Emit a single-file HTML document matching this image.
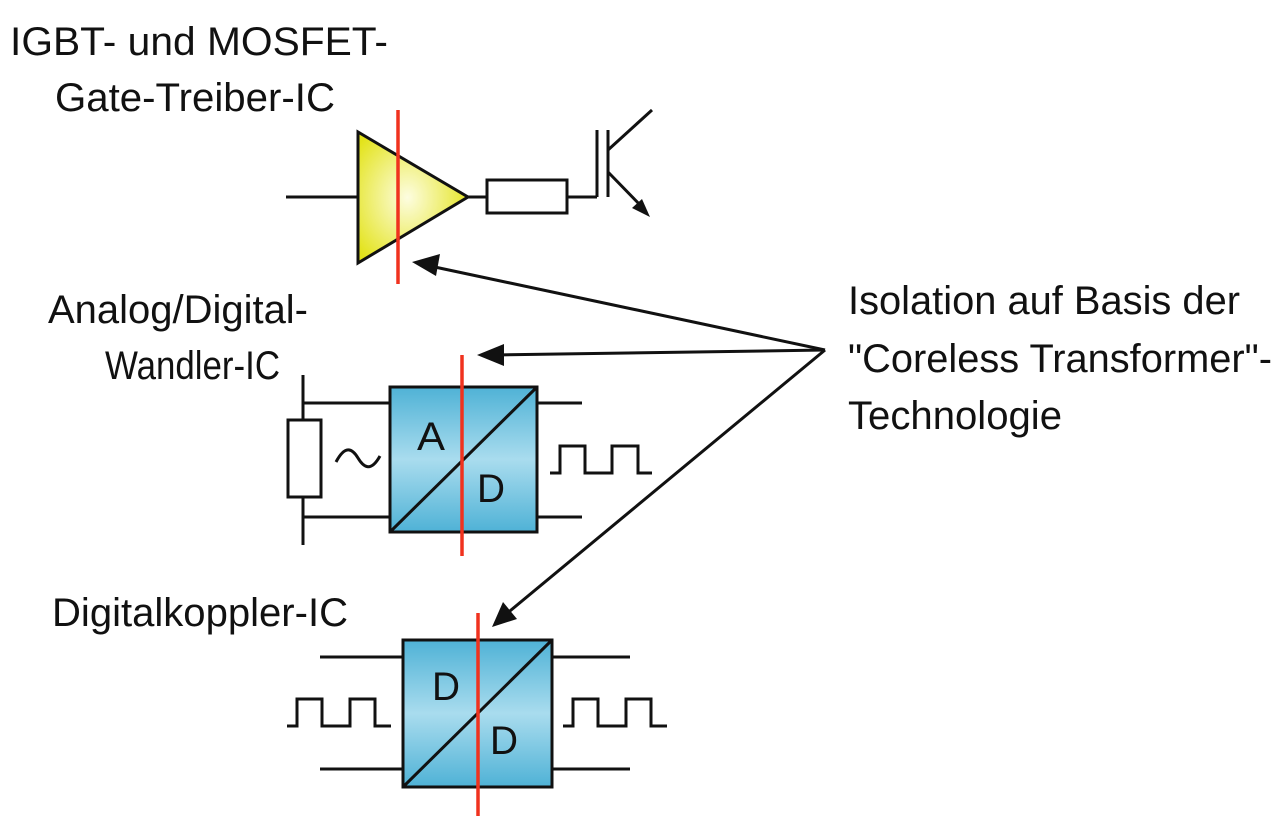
<!DOCTYPE html>
<html><head><meta charset="utf-8"><style>
html,body{margin:0;padding:0;background:#fff;}
svg{display:block;}
text{font-family:"Liberation Sans",Arial,sans-serif;font-size:40px;fill:#111;}
</style></head><body>
<svg width="1280" height="816" viewBox="0 0 1280 816" xmlns="http://www.w3.org/2000/svg">
<defs>
<radialGradient id="yg" cx="0.45" cy="0.5" r="0.6">
<stop offset="0" stop-color="#fdfde0"/><stop offset="1" stop-color="#e3e31a"/></radialGradient>
<linearGradient id="bg" x1="0" y1="0" x2="0" y2="1">
<stop offset="0" stop-color="#4fb2d6"/><stop offset="0.5" stop-color="#a9dcee"/><stop offset="1" stop-color="#4fb2d6"/></linearGradient>
</defs>
<g stroke="#111" stroke-width="3" fill="none">
<line x1="286" y1="197" x2="358" y2="197"/>
<polygon points="358,132 358,263 468,197" fill="url(#yg)"/>
<line x1="468" y1="197" x2="487" y2="197"/>
<rect x="487" y="180" width="80" height="33" fill="#fff"/>
<line x1="567" y1="197" x2="597" y2="197"/>
<line x1="597" y1="130" x2="597" y2="197"/>
<line x1="608" y1="130" x2="608" y2="197"/>
<line x1="608" y1="150" x2="652" y2="110"/>
<line x1="608" y1="172" x2="645" y2="210"/>
<polygon points="650,217 632,208 642,199" fill="#111" stroke="none"/>
<line x1="303" y1="375" x2="303" y2="545"/>
<line x1="303" y1="403" x2="390" y2="403"/>
<line x1="303" y1="517" x2="390" y2="517"/>
<rect x="288" y="420" width="33" height="77" fill="#fff"/>
<path d="M336,462 C345,445 352,448 358,458 C364,468 371,472 380,456"/>
<rect x="390" y="387" width="147" height="145" fill="url(#bg)"/>
<line x1="390" y1="532" x2="537" y2="387"/>
<line x1="537" y1="403" x2="582" y2="403"/>
<line x1="537" y1="517" x2="582" y2="517"/>
<polyline points="550,473 560,473 560,446 585,446 585,473 612,473 612,446 638,446 638,473 652,473"/>
<line x1="320" y1="657" x2="403" y2="657"/>
<line x1="320" y1="769" x2="403" y2="769"/>
<line x1="552" y1="657" x2="630" y2="657"/>
<line x1="552" y1="769" x2="630" y2="769"/>
<polyline points="287,726 297,726 297,699 322,699 322,726 350,726 350,699 375,699 375,726 391,726"/>
<polyline points="563,726 573,726 573,699 598,699 598,726 626,726 626,699 651,699 651,726 667,726"/>
<rect x="403" y="640" width="149" height="147" fill="url(#bg)"/>
<line x1="403" y1="787" x2="552" y2="640"/>
<line x1="825" y1="350" x2="430" y2="266"/>
<line x1="825" y1="350" x2="495" y2="355"/>
<line x1="825" y1="350" x2="505" y2="615"/>
</g>
<g fill="#111">
<polygon points="412,262 440,254 436,276"/>
<polygon points="477,355 504,344 504,366"/>
<polygon points="492,627 503,602 517,619"/>
</g>
<g stroke="#f0321e" stroke-width="3.5">
<line x1="398" y1="110" x2="398" y2="284"/>
<line x1="462" y1="355" x2="462" y2="556"/>
<line x1="478" y1="613" x2="478" y2="816"/>
</g>
<text x="417" y="450" font-size="38" textLength="28" lengthAdjust="spacingAndGlyphs">A</text>
<text x="477" y="502" font-size="38" textLength="28" lengthAdjust="spacingAndGlyphs">D</text>
<text x="432" y="700" font-size="38" textLength="28" lengthAdjust="spacingAndGlyphs">D</text>
<text x="490" y="754" font-size="38" textLength="28" lengthAdjust="spacingAndGlyphs">D</text>
<text x="10" y="55" textLength="378" lengthAdjust="spacingAndGlyphs">IGBT- und MOSFET-</text>
<text x="55" y="111" textLength="280" lengthAdjust="spacingAndGlyphs">Gate-Treiber-IC</text>
<text x="48" y="323" textLength="260" lengthAdjust="spacingAndGlyphs">Analog/Digital-</text>
<text x="105" y="379" textLength="175" lengthAdjust="spacingAndGlyphs">Wandler-IC</text>
<text x="52" y="626" textLength="296" lengthAdjust="spacingAndGlyphs">Digitalkoppler-IC</text>
<text x="848" y="314" textLength="392" lengthAdjust="spacingAndGlyphs">Isolation auf Basis der</text>
<text x="848" y="372" textLength="424" lengthAdjust="spacingAndGlyphs">"Coreless Transformer"-</text>
<text x="848" y="429" textLength="214" lengthAdjust="spacingAndGlyphs">Technologie</text>
</svg>
</body></html>
